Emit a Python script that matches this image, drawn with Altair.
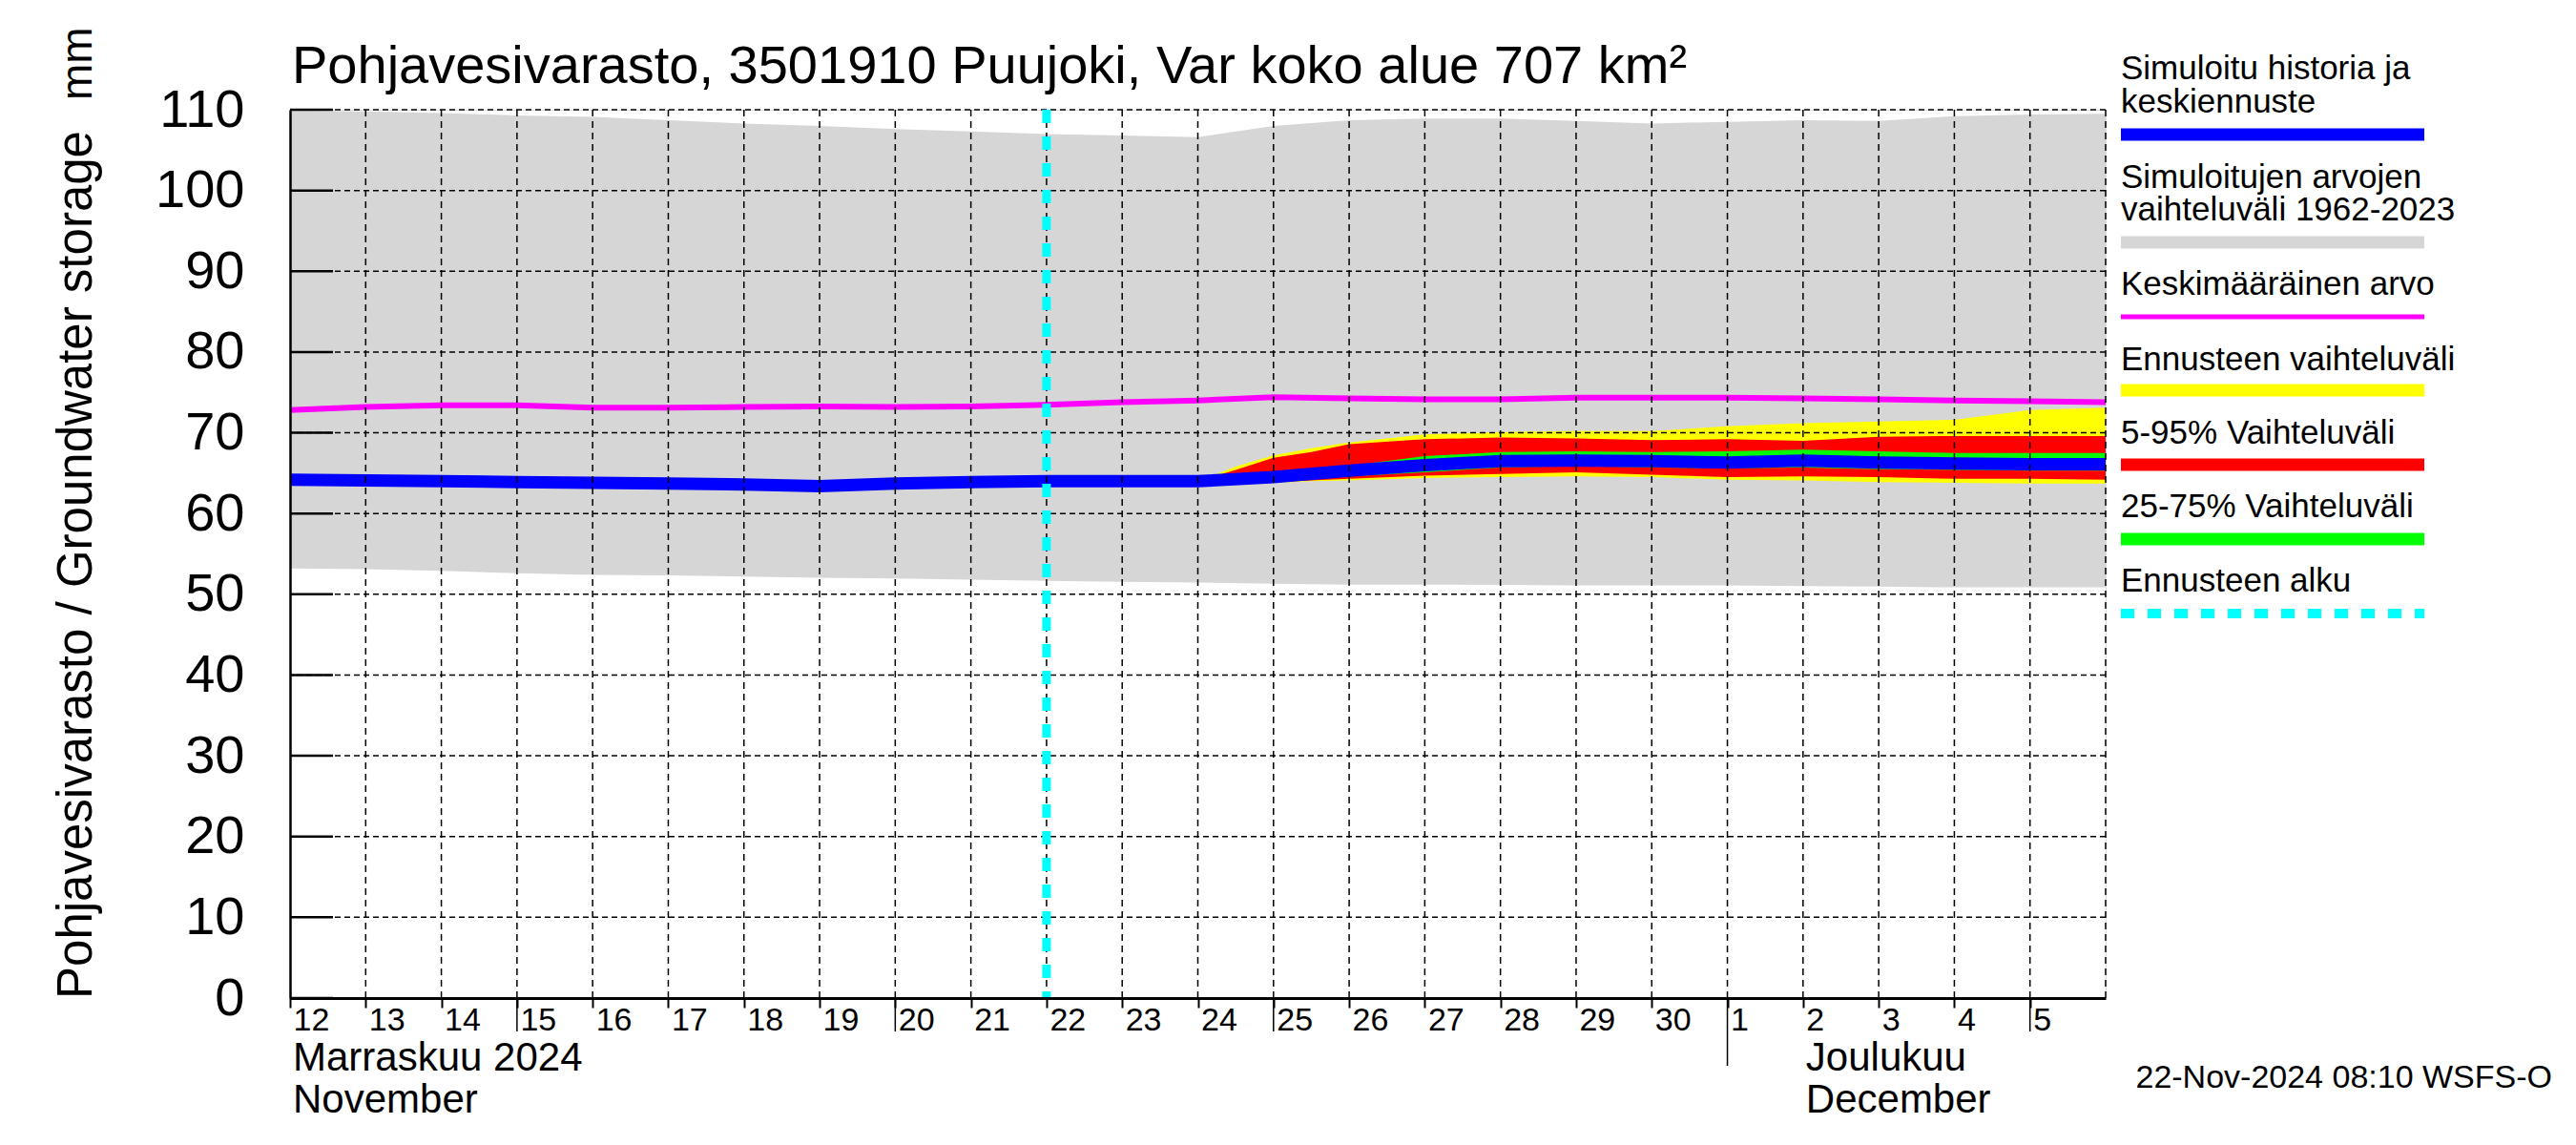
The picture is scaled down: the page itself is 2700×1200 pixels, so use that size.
import altair as alt
import pandas as pd

FONT = "Liberation Sans"
BASE = pd.Timestamp("2024-11-12T00:00:00")

def ts(d):
    return (BASE + pd.Timedelta(hours=round(d * 24))).strftime("%Y-%m-%dT%H:%M:%S")

# ---- data (days since 12 Nov 2024 00:00) ----
hist_days = list(range(0, 25))
grey_upper = [109.9, 109.8, 109.6, 109.3, 109.1, 108.7, 108.3, 108.0, 107.6, 107.3, 107.0, 106.8,
              106.6, 108.0, 108.7, 108.9, 108.9, 108.6, 108.3, 108.5, 108.7, 108.6, 109.2, 109.4, 109.5]
grey_lower = [53.2, 53.1, 52.9, 52.6, 52.4, 52.35, 52.2, 52.05, 51.95, 51.8, 51.65, 51.55,
              51.45, 51.3, 51.2, 51.2, 51.15, 51.1, 51.1, 51.1, 51.0, 50.95, 50.85, 50.85, 50.85]
mean_vals = [72.8, 73.2, 73.4, 73.4, 73.1, 73.1, 73.2, 73.25, 73.2, 73.25, 73.45, 73.8,
             74.0, 74.4, 74.25, 74.15, 74.15, 74.35, 74.35, 74.35, 74.25, 74.15, 74.0, 73.9, 73.8]
median_vals = [64.2, 64.1, 64.0, 63.9, 63.8, 63.7, 63.6, 63.4, 63.7, 63.9, 64.0, 64.0,
               64.0, 64.5, 65.3, 66.0, 66.5, 66.55, 66.5, 66.3, 66.55, 66.3, 66.2, 66.1, 66.1]

fc_days = [12, 12.5, 13, 13.5, 14, 15, 16, 17, 18, 19, 20, 21, 22, 23, 24]
yellow_upper = [64.0, 65.8, 67.2, 68.1, 68.8, 69.8, 70.1, 70.2, 70.2, 70.8, 71.2, 71.4, 71.6, 72.8, 73.1]
red_upper = [64.0, 65.4, 66.9, 67.6, 68.6, 69.2, 69.4, 69.3, 69.1, 69.2, 69.0, 69.5, 69.6, 69.6, 69.6]
green_upper = [64.0, 64.6, 65.2, 65.5, 65.9, 67.1, 67.6, 67.7, 67.6, 67.7, 67.9, 67.7, 67.5, 67.5, 67.5]
green_lower = [64.0, 64.0, 64.2, 64.4, 64.6, 65.1, 65.7, 65.9, 65.7, 65.6, 65.7, 65.5, 65.4, 65.3, 65.3]
red_lower = [64.0, 63.8, 63.9, 64.1, 64.3, 64.7, 64.9, 65.1, 64.8, 64.5, 64.6, 64.5, 64.3, 64.3, 64.2]
yellow_lower = [64.0, 63.7, 63.8, 64.0, 64.1, 64.4, 64.5, 64.6, 64.5, 64.2, 64.1, 63.9, 63.8, 63.7, 63.7]

forecast_start = 10
y_ticks = list(range(0, 111, 10))
grid_days = list(range(1, 25))
long_tick_days = [3, 8, 13, 23]     # 15, 20, 25 Nov, 5 Dec
month_start_day = 19                # 1 Dec
month_labels = [(0, "Marraskuu 2024", "November"), (20, "Joulukuu", "December")]
label_days = list(range(0, 24))

title_text = "Pohjavesivarasto, 3501910 Puujoki, Var koko alue 707 km²"
ytitle_text = "Pohjavesivarasto / Groundwater storage"
stamp_text = "22-Nov-2024 08:10 WSFS-O"

W, H = 1903, 931

hist = pd.DataFrame({"t": [ts(d) for d in hist_days], "hi": grey_upper, "lo": grey_lower,
                     "mean": mean_vals, "med": median_vals})
fc = pd.DataFrame({"t": [ts(d) for d in fc_days], "yu": yellow_upper, "yl": yellow_lower,
                   "ru": red_upper, "rl": red_lower, "gu": green_upper, "gl": green_lower})

def dt(d):
    x = BASE + pd.Timedelta(days=d)
    return alt.DateTime(year=x.year, month=x.month, date=x.day, hours=0)

xscale = alt.Scale(domain=[dt(0), dt(24)])
yscale = alt.Scale(domain=[0, 110], nice=False, zero=False)

xaxis = alt.Axis(values=[dt(d) for d in label_days], format="%-d", labelAlign="left",
                 labelBaseline="alphabetic", labelPadding=23, labelOffset=3, tickSize=10,
                 tickWidth=2, tickColor="black", domainColor="black", domainWidth=3,
                 labelFontSize=34, labelFont=FONT, labelColor="black", grid=False,
                 labelOverlap=False, labelFlush=False, title=None, zindex=1)
yaxis = alt.Axis(values=y_ticks, labelFontSize=56, labelFont=FONT, labelColor="black",
                 labelPadding=48, ticks=False, domainWidth=2.5, domainColor="black",
                 grid=False, title=None, zindex=1)

grey = alt.Chart(hist).mark_area(color="#d6d6d6").encode(
    x=alt.X("t:T", scale=xscale, axis=xaxis),
    y=alt.Y("lo:Q", scale=yscale, axis=yaxis),
    y2="hi:Q")

def band(lo, hi, color):
    return alt.Chart(fc).mark_area(color=color).encode(
        x=alt.X("t:T"), y=alt.Y(f"{lo}:Q"), y2=f"{hi}:Q")

yellow = band("yl", "yu", "#ffff00")
red = band("rl", "ru", "#ff0000")
green = band("gl", "gu", "#00ff00")

mean_line = alt.Chart(hist).mark_line(color="#ff00ff", strokeWidth=6).encode(
    x="t:T", y="mean:Q")
med_line = alt.Chart(hist).mark_line(color="#0000ff", strokeWidth=13, strokeCap="butt").encode(
    x="t:T", y="med:Q")

vgrid = alt.Chart(pd.DataFrame({"t": [ts(d) for d in grid_days]})).mark_rule(
    color="black", strokeWidth=1.5, strokeDash=[7, 5]).encode(x="t:T")
hgrid = alt.Chart(pd.DataFrame({"v": y_ticks[1:]})).mark_rule(
    color="black", strokeWidth=1.5, strokeDash=[6, 4]).encode(y="v:Q")
yticks_in = alt.Chart(pd.DataFrame({"v": y_ticks})).mark_rule(
    color="black", strokeWidth=2.5).encode(y="v:Q", x=alt.value(0), x2=alt.value(45))
long_ticks = alt.Chart(pd.DataFrame({"t": [ts(d) for d in long_tick_days]})).mark_rule(
    color="black", strokeWidth=1.5).encode(x="t:T", y=alt.value(H), y2=alt.value(H + 35))
month_tick = alt.Chart(pd.DataFrame({"t": [ts(month_start_day)]})).mark_rule(
    color="black", strokeWidth=1.5).encode(x="t:T", y=alt.value(H), y2=alt.value(H + 71))

fc_line = alt.Chart(pd.DataFrame({"t": [ts(forecast_start)]})).mark_rule(
    color="#00ffff", strokeWidth=9, strokeDash=[14, 14]).encode(x="t:T")

mdf = pd.DataFrame({"t": [ts(m[0]) for m in month_labels],
                    "fi": [m[1] for m in month_labels], "en": [m[2] for m in month_labels]})
month_fi = alt.Chart(mdf).mark_text(font=FONT, fontSize=42, align="left", baseline="alphabetic",
                                    dx=3, color="black").encode(x="t:T", y=alt.value(H + 76), text="fi:N")
month_en = alt.Chart(mdf).mark_text(font=FONT, fontSize=42, align="left", baseline="alphabetic",
                                    dx=3, color="black").encode(x="t:T", y=alt.value(H + 120), text="en:N")

one = pd.DataFrame({"a": [0]})

def txt(s, x, y, size, align="left", angle=0):
    kw = dict(font=FONT, fontSize=size, align=align, baseline="alphabetic", color="black")
    if angle:
        kw["angle"] = angle
    return alt.Chart(one).mark_text(**kw).encode(x=alt.value(x), y=alt.value(y), text=alt.value(s))

def leg_rule(y, color, width, dash=None):
    kw = dict(color=color, strokeWidth=width, strokeCap="butt")
    if dash:
        kw["strokeDash"] = dash
    return alt.Chart(one).mark_rule(**kw).encode(
        x=alt.value(1919), x2=alt.value(2237), y=alt.value(y))

texts = [
    txt(title_text, 2, -28, 56),
    txt(ytitle_text, -208, H + 1, 51, angle=270),
    txt("mm", -208, -10, 46, angle=270),
    txt(stamp_text, 2371, 1025, 34, align="right"),
    txt("Simuloitu historia ja", 1919, -32, 35),
    txt("keskiennuste", 1919, 3, 35),
    txt("Simuloitujen arvojen", 1919, 82, 35),
    txt("vaihteluväli 1962-2023", 1919, 116, 35),
    txt("Keskimääräinen arvo", 1919, 194, 35),
    txt("Ennusteen vaihteluväli", 1919, 273, 35),
    txt("5-95% Vaihteluväli", 1919, 350, 35),
    txt("25-75% Vaihteluväli", 1919, 427, 35),
    txt("Ennusteen alku", 1919, 505, 35),
]
legend_rules = [
    leg_rule(26, "#0000ff", 13),
    leg_rule(139, "#d6d6d6", 13),
    leg_rule(217, "#ff00ff", 5),
    leg_rule(294, "#ffff00", 13),
    leg_rule(372, "#ff0000", 13),
    leg_rule(450, "#00ff00", 13),
    leg_rule(528, "#00ffff", 10, dash=[14, 14]),
]

chart = alt.layer(
    grey, yellow, red, green, mean_line, med_line,
    vgrid, hgrid, yticks_in, long_ticks, month_tick, fc_line,
    month_fi, month_en, *texts, *legend_rules
).properties(
    width=W, height=H,
    autosize=alt.AutoSizeParams(type="none"),
    padding={"left": 296, "top": 107, "right": 470, "bottom": 140},
).configure_view(stroke=None).configure(background="white")

chart.save("out.html", embed_options={"renderer": "svg", "actions": False})
